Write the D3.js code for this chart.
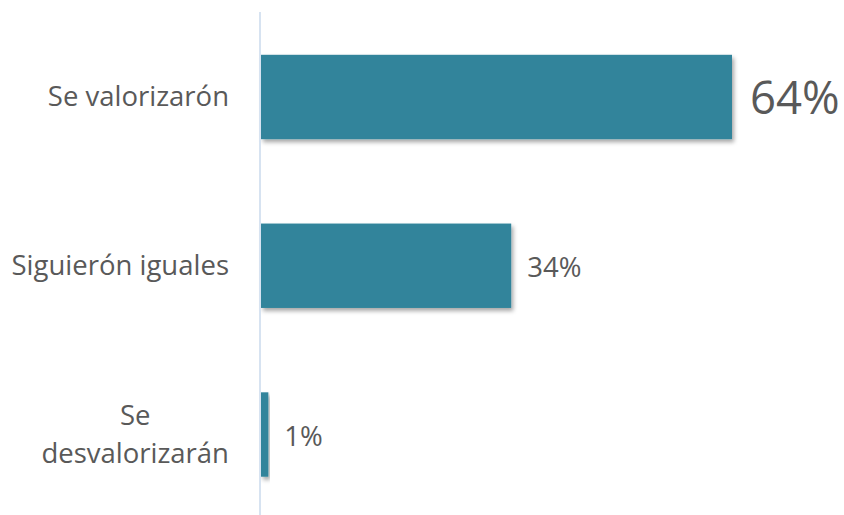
<!DOCTYPE html>
<html>
<head>
<meta charset="utf-8">
<script src="https://cdn.jsdelivr.net/npm/d3@7"></script>
<style>
  body { margin: 0; background: #fff; }
  text { font-family: "Open Sans", sans-serif; fill: #595959; }
</style>
</head>
<body>
<div id="chart"></div>
<script>
var categories = ["Se valorizarón", "Siguierón iguales", "Se desvalorizarán"];
var labelLines = [["Se valorizarón"], ["Siguierón iguales"], ["Se", "desvalorizarán"]];
var values = [64, 34, 1];
var valueLabels = ["64%", "34%", "1%"];

var width = 844, height = 515;
var svg = d3.select("#chart").append("svg")
    .attr("width", width)
    .attr("height", height);

var defs = svg.append("defs");
var f = defs.append("filter").attr("id", "shadow")
    .attr("x", "-10%").attr("y", "-10%").attr("width", "130%").attr("height", "130%");
f.append("feDropShadow")
    .attr("dx", 2).attr("dy", 3)
    .attr("stdDeviation", 2)
    .attr("flood-color", "#000")
    .attr("flood-opacity", 0.35);

var x = d3.scaleLinear().domain([0, 64]).range([261, 732]);
var y = d3.scaleBand().domain(categories)
    .range([12.6, 518.9])
    .paddingInner(0.5)
    .paddingOuter(0.25);

// bars
svg.selectAll(".bar")
    .data(values)
    .enter().append("rect")
    .attr("class", "bar")
    .attr("x", x(0))
    .attr("y", function(d, i) { return y(categories[i]); })
    .attr("width", function(d) { return x(d) - x(0); })
    .attr("height", y.bandwidth())
    .attr("fill", "#31849b")
    .attr("filter", "url(#shadow)");

// axis line
svg.append("line")
    .attr("x1", 260).attr("x2", 260)
    .attr("y1", 12).attr("y2", 515)
    .attr("stroke", "#d7e3f1")
    .attr("stroke-width", 2);

// category labels
var lab = svg.selectAll(".cat")
    .data(labelLines)
    .enter().append("text")
    .attr("class", "cat")
    .style("font-size", "27.5px");

lab.each(function(lines, i) {
    var t = d3.select(this);
    var cy = y(categories[i]) + y.bandwidth() / 2;
    var lh = 38;
    var y0 = cy + 9 - (lines.length - 1) * lh / 2;
    lines.forEach(function(s, j) {
        t.append("tspan").text(s).attr("y", y0 + j * lh);
    });
    var maxW = 0;
    t.selectAll("tspan").each(function() {
        maxW = Math.max(maxW, this.getComputedTextLength());
    });
    t.selectAll("tspan")
        .attr("x", 229 - maxW / 2)
        .attr("text-anchor", "middle");
});

// value labels
svg.selectAll(".val")
    .data(values)
    .enter().append("text")
    .attr("class", "val")
    .attr("x", function(d, i) { return x(d) + (i == 0 ? 18 : 16); })
    .attr("y", function(d, i) { return y(categories[i]) + y.bandwidth() / 2 + (i == 0 ? 17 : 11); })
    .style("font-size", function(d, i) { return i == 0 ? "45.5px" : "27.5px"; })
    .text(function(d, i) { return valueLabels[i]; });
</script>
</body>
</html>
